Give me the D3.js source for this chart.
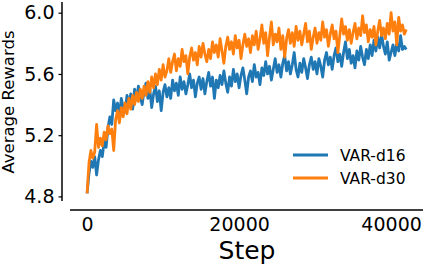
<!DOCTYPE html>
<html><head><meta charset="utf-8">
<script src="https://cdn.jsdelivr.net/npm/d3@7"></script>
<style>body{margin:0;background:#fff}svg{display:block}text{font-family:"DejaVu Sans",sans-serif;fill:#000}</style>
</head><body>
<svg id="c" width="442" height="268"></svg>
<script>
const stepSize = 250;
const seriesNames = ["VAR-d16", "VAR-d30"];
const d16 = [
4.82,4.95,5.03,4.99,5.06,4.94,5.04,5.10,5.06,5.16,
5.12,5.25,5.32,5.27,5.43,5.36,5.41,5.33,5.44,5.38,
5.35,5.46,5.40,5.47,5.37,5.50,5.43,5.52,5.45,5.40,
5.49,5.54,5.44,5.50,5.38,5.47,5.52,5.42,5.49,5.36,
5.48,5.53,5.45,5.51,5.44,5.56,5.49,5.54,5.46,5.58,
5.50,5.55,5.47,5.53,5.60,5.51,5.56,5.45,5.54,5.58,
5.50,5.57,5.47,5.55,5.61,5.52,5.58,5.44,5.56,5.51,
5.59,5.53,5.62,5.54,5.48,5.58,5.52,5.63,5.55,5.60,
5.51,5.59,5.64,5.56,5.47,5.58,5.62,5.55,5.66,5.58,
5.61,5.53,5.64,5.59,5.68,5.60,5.65,5.56,5.63,5.70,
5.61,5.66,5.58,5.67,5.72,5.62,5.68,5.60,5.66,5.74,
5.63,5.58,5.67,5.61,5.70,5.64,5.57,5.66,5.71,5.63,
5.68,5.60,5.70,5.65,5.58,5.69,5.74,5.66,5.71,5.63,
5.72,5.77,5.68,5.73,5.65,5.74,5.81,5.70,5.76,5.67,
5.72,5.64,5.75,5.69,5.78,5.71,5.66,5.76,5.70,5.79,
5.72,5.82,5.75,5.84,5.77,5.86,5.78,5.73,5.81,5.69,
5.74,5.79,5.72,5.80,5.75,5.85,5.76,5.78,5.76];
const d30 = [
4.82,5.02,5.10,5.05,5.09,5.27,5.12,5.18,5.13,5.22,
5.17,5.26,5.21,5.24,5.10,5.30,5.36,5.28,5.38,5.32,
5.41,5.34,5.44,5.37,5.46,5.40,5.48,5.42,5.50,5.44,
5.52,5.46,5.55,5.48,5.58,5.51,5.60,5.53,5.63,5.56,
5.66,5.58,5.62,5.70,5.61,5.68,5.73,5.62,5.70,5.65,
5.76,5.68,5.72,5.60,5.71,5.77,5.69,5.74,5.66,5.78,
5.71,5.80,5.73,5.68,5.76,5.70,5.81,5.74,5.79,5.71,
5.83,5.75,5.67,5.78,5.84,5.76,5.81,5.73,5.85,5.77,
5.82,5.70,5.79,5.86,5.78,5.83,5.74,5.85,5.79,5.88,
5.76,5.83,5.92,5.80,5.87,5.72,5.84,5.94,5.79,5.86,
5.81,5.90,5.76,5.85,5.71,5.83,5.89,5.80,5.87,5.78,
5.91,5.82,5.88,5.79,5.86,5.93,5.81,5.88,5.76,5.84,
5.90,5.80,5.87,5.82,5.94,5.84,5.89,5.78,5.86,5.92,
5.83,5.88,5.74,5.85,5.96,5.86,5.91,5.82,5.89,5.80,
5.87,5.93,5.83,5.90,5.85,5.98,5.87,5.92,5.81,5.89,
5.84,5.91,5.79,5.88,5.95,5.85,5.90,5.83,5.93,5.86,
6.00,5.88,5.94,5.79,5.97,5.88,5.92,5.86,5.89];
const xTicks = [0, 20000, 40000];
const yTicks = [4.8, 5.2, 5.6, 6.0];
const colors = ["#1f77b4", "#ff7f0e"];

const svg = d3.select("#c");
const x = d3.scaleLinear().domain([-2250, 44200]).range([70, 423]);
const y = d3.scaleLinear().domain([4.77, 6.07]).range([201, 2]);

const series = [d16, d30];
const line = d3.line().x((d, i) => x(i * stepSize)).y(d => y(d));
series.forEach((s, k) => {
  svg.append("path").datum(s).attr("d", line).attr("fill", "none")
    .attr("stroke", colors[k]).attr("stroke-width", 2.8).attr("stroke-linejoin", "round");
});

// y axis
const ya = svg.append("g").attr("transform", "translate(62,0)")
  .call(d3.axisLeft(y).tickValues(yTicks).tickFormat(d3.format(".1f")).tickSize(3.5).tickPadding(4));
ya.select(".domain").attr("d", `M0,${y.range()[0]}V${y.range()[1]}`).attr("stroke-width", 1.5);
ya.selectAll("text").style("font-size", "19px").style("font-family", "DejaVu Sans");
ya.selectAll(".tick line").attr("stroke-width", 1.2);

// x axis
const xa = svg.append("g").attr("transform", "translate(0,210)")
  .call(d3.axisBottom(x).tickValues(xTicks).tickFormat(d3.format("d")).tickSize(0).tickPadding(8));
xa.select(".domain").attr("d", `M${x.range()[0]},0H${x.range()[1]}`).attr("stroke-width", 1.5);
xa.selectAll("text").style("font-size", "19px").style("font-family", "DejaVu Sans");

svg.append("text").attr("x", 247).attr("y", 259).attr("text-anchor", "middle")
  .style("font-size", "25px").text("Step");
svg.append("text").attr("transform", "translate(14,102) rotate(-90)").attr("text-anchor", "middle")
  .style("font-size", "16.5px").text("Average Rewards");

// legend
seriesNames.forEach((n, k) => {
  const ly = 155 + k * 23;
  svg.append("line").attr("x1", 293).attr("x2", 328).attr("y1", ly).attr("y2", ly)
    .attr("stroke", colors[k]).attr("stroke-width", 3.2);
  svg.append("text").attr("x", 340).attr("y", ly + 6).style("font-size", "15.5px").text(n);
});
</script>
</body></html>
